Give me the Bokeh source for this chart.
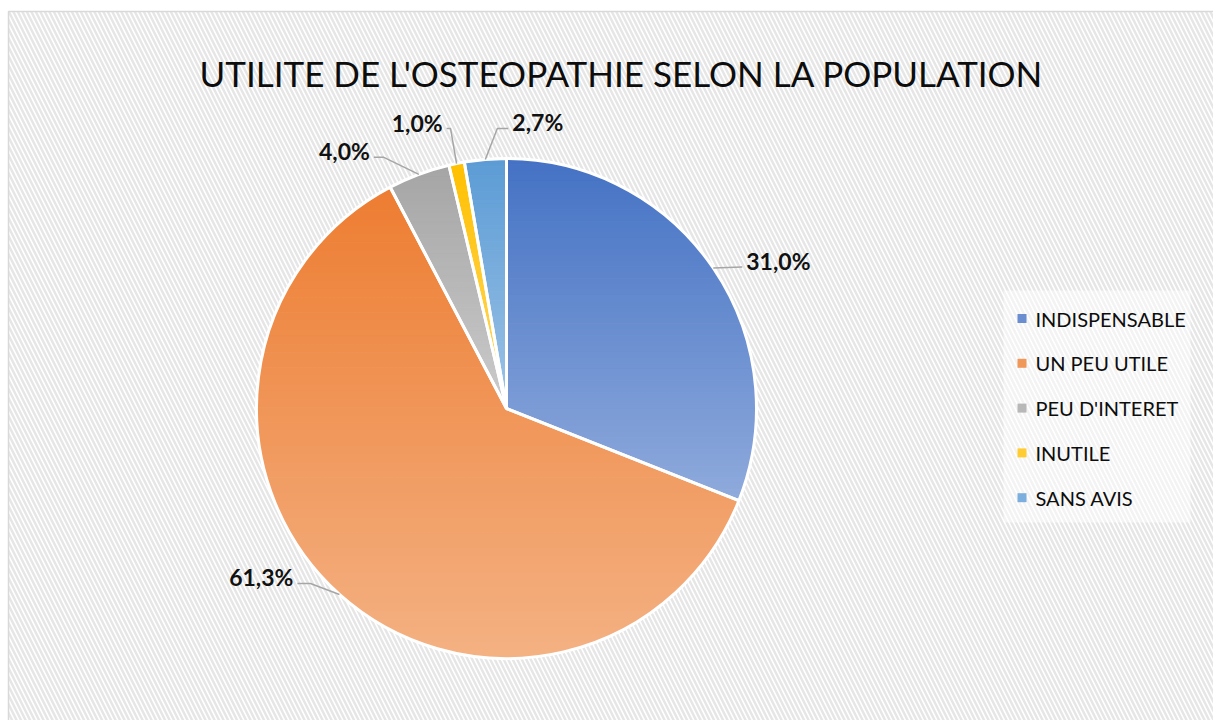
import numpy as np
from bokeh.plotting import figure
from bokeh.models import Range1d
from bokeh.embed import file_html
from bokeh.resources import INLINE
from bokeh.core.properties import value

# ---------------- data ----------------
title_text = "UTILITE DE L'OSTEOPATHIE SELON LA POPULATION"
categories = ["INDISPENSABLE", "UN PEU UTILE", "PEU D'INTERET", "INUTILE", "SANS AVIS"]
percents = [31.0, 61.3, 4.0, 1.0, 2.7]
pct_labels = ["31,0%", "61,3%", "4,0%", "1,0%", "2,7%"]

# ---------------- styles / layout ----------------
top_colors = ["#4472C4", "#ED7D31", "#A5A5A5", "#FFC000", "#5B9BD5"]
bottom_colors = ["#8FAADC", "#F4B183", "#CBCBCB", "#FFD966", "#9DC3E6"]
label_offsets = [(33, -7), (-46, -17), (-49, -23), (-14, -41), (27, -37)]  # px from slice edge
label_align = ["left", "right", "right", "right", "left"]
leader_tail = [0, 13, 10, 4, 11]

W, H = 1213, 720
FONT = "Lato"
OX, OY = 0, 0  # page offset of the figure


def px(x):
    return x - OX


def py(y):
    return H - (y - OY)


cx, cy, R = px(506), py(408), 250

p = figure(width=W, height=H, output_backend="svg", toolbar_location=None,
           x_range=Range1d(0, W), y_range=Range1d(0, H), min_border=0)
p.axis.visible = False
p.grid.visible = False
p.outline_line_color = None
p.background_fill_color = "white"
p.border_fill_color = "white"

# hatched chart area
p.quad(left=[px(8)], right=[px(1260)], top=[py(11)], bottom=[py(760)],
       fill_color="white", hatch_pattern="\\", hatch_color="#e6e6e6",
       hatch_scale=9, hatch_weight=2.5, line_color="#d9d9d9", line_width=1.5)


def hex2rgb(h):
    h = h.lstrip("#")
    return np.array([int(h[i:i + 2], 16) for i in (0, 2, 4)], dtype=float)


def rgb2hex(c):
    return "#%02x%02x%02x" % tuple(int(round(v)) for v in c)


def clip(poly, y0, keep_above):
    out = []
    n = len(poly)
    for i in range(n):
        P = poly[i]
        Q = poly[(i + 1) % n]
        inP = P[1] >= y0 if keep_above else P[1] <= y0
        inQ = Q[1] >= y0 if keep_above else Q[1] <= y0
        if inP:
            out.append(P)
        if inP != inQ:
            t = (y0 - P[1]) / (Q[1] - P[1])
            out.append((P[0] + t * (Q[0] - P[0]), y0))
    return out


fractions = np.array(percents) / sum(percents)
cum = np.concatenate([[0], np.cumsum(fractions)])
start_ang = np.pi / 2 - 2 * np.pi * cum[:-1]   # math angle where slice begins (clockwise)
end_ang = np.pi / 2 - 2 * np.pi * cum[1:]
mid_ang = (start_ang + end_ang) / 2

xs_all, ys_all, cols_all = [], [], []
NB = 60
for i in range(len(percents)):
    a = np.linspace(start_ang[i], end_ang[i], max(8, int(400 * fractions[i])))
    poly = [(cx, cy)] + [(cx + R * np.cos(t), cy + R * np.sin(t)) for t in a]
    ymax = max(q[1] for q in poly)
    ymin = min(q[1] for q in poly)
    c0, c1 = hex2rgb(top_colors[i]), hex2rgb(bottom_colors[i])
    edges = np.linspace(ymax, ymin, NB + 1)
    for b in range(NB):
        sub = clip(clip(poly, edges[b], False), edges[b + 1], True)
        if len(sub) < 3:
            continue
        f = (b + 0.5) / NB
        xs_all.append([q[0] for q in sub])
        ys_all.append([q[1] for q in sub])
        cols_all.append(rgb2hex(c0 + (c1 - c0) * f))

p.patches(xs=xs_all, ys=ys_all, fill_color=cols_all, line_color=cols_all, line_width=1)

# white separators
p.wedge(x=cx, y=cy, radius=R, start_angle=end_ang, end_angle=start_ang,
        fill_color=None, line_color="white", line_width=3)

# labels and leader lines
for i in range(len(percents)):
    ex = cx + R * np.cos(mid_ang[i])
    ey = cy + R * np.sin(mid_ang[i])
    lx = ex + label_offsets[i][0]
    ly = ey - label_offsets[i][1]
    sgn = 1 if label_align[i] == "left" else -1
    endx = lx - sgn * 4
    endy = ly - 6
    kneex = endx - sgn * leader_tail[i]
    p.line([ex, kneex, endx], [ey, endy, endy], line_color="#a6a6a6", line_width=1.5)
    p.text(x=[lx], y=[ly], text=[pct_labels[i]], text_align=label_align[i],
           text_baseline="middle", text_font=value(FONT), text_font_style="bold",
           text_font_size="23px", text_color="#111111")

# title
p.text(x=[px(621)], y=[py(72)], text=[title_text], text_align="center",
       text_baseline="middle", text_font=value(FONT), text_font_size="35px",
       text_color="#0d0d0d")

# legend
p.quad(left=[px(1003)], right=[px(1190)], top=[py(290)], bottom=[py(522)],
       fill_color="white", fill_alpha=0.5, line_color=None)
leg_x = px(1021.5)
leg_y0 = py(318)
leg_dy = 44.8
leg_ys = [leg_y0 - k * leg_dy for k in range(len(categories))]
mid_cols = [rgb2hex((hex2rgb(a) + hex2rgb(b)) / 2) for a, b in zip(top_colors, bottom_colors)]
p.rect(x=[leg_x] * len(categories), y=leg_ys, width=9, height=9,
       fill_color=mid_cols, line_color=None)
p.text(x=[px(1035)] * len(categories), y=leg_ys, text=categories,
       text_align="left", text_baseline="middle", text_font=value(FONT),
       text_font_size="20px", text_color="#0d0d0d")

open("out.html", "w").write(file_html(p, INLINE))
